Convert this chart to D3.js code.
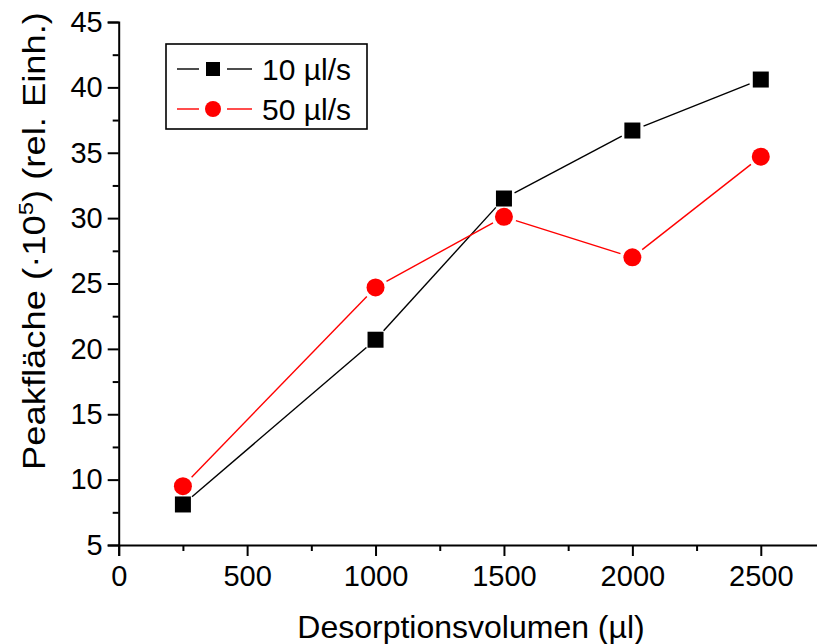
<!DOCTYPE html>
<html>
<head>
<meta charset="utf-8">
<script src="https://cdn.jsdelivr.net/npm/d3@7"></script>
<style>
  html, body { margin: 0; padding: 0; background: #fff; }
  svg { display: block; }
  text { font-family: "Liberation Sans", Arial, sans-serif; fill: #000; }
</style>
</head>
<body>
<svg id="chart" width="817" height="644"></svg>
<script>
// Desorption volume (µl) and peak areas (×10^5, rel. units)
const volumes = [250, 1000, 1500, 2000, 2500];
const flow10 = [8.1, 20.7, 31.5, 36.7, 40.6];
const flow50 = [9.5, 24.7, 30.1, 27.0, 34.7];
const seriesNames = ["10 µl/s", "50 µl/s"];
const xTicks = [0, 500, 1000, 1500, 2000, 2500];
const yTicks = [5, 10, 15, 20, 25, 30, 35, 40, 45];

const svg = d3.select("#chart");

const x = d3.scaleLinear().domain([0, 2750]).range([118.7, 825]);
const y = d3.scaleLinear().domain([5, 45]).range([545, 22]);

// Axes (ticks pointing outward, minor ticks between majors)
const xMinor = d3.range(250, 2750, 500);
const yMinor = d3.range(7.5, 45, 5);

const xAxisG = svg.append("g").attr("transform", `translate(0,${y(5)})`);
xAxisG.call(d3.axisBottom(x).tickValues(xMinor).tickSize(6).tickFormat(""))
  .call(g => g.select(".domain").remove());
xAxisG.append("g").call(d3.axisBottom(x).tickValues(xTicks).tickSize(11).tickPadding(9).tickFormat(d3.format("d")));
xAxisG.selectAll("line, path").attr("stroke", "#000").attr("stroke-width", 2);
xAxisG.selectAll("text").attr("font-size", 29).attr("fill", "#000");

const yAxisG = svg.append("g").attr("transform", `translate(${x(0)},0)`);
yAxisG.call(d3.axisLeft(y).tickValues(yMinor).tickSize(6).tickFormat(""))
  .call(g => g.select(".domain").remove());
yAxisG.append("g").call(d3.axisLeft(y).tickValues(yTicks).tickSize(11).tickPadding(5).tickFormat(d3.format("d")));
yAxisG.selectAll("line, path").attr("stroke", "#000").attr("stroke-width", 2);
yAxisG.selectAll("text").attr("font-size", 29).attr("fill", "#000");

// Axis titles
svg.append("text")
  .attr("x", 471).attr("y", 638)
  .attr("text-anchor", "middle")
  .attr("font-size", 32)
  .text("Desorptionsvolumen (µl)");

const yTitle = svg.append("text")
  .attr("text-anchor", "middle")
  .attr("font-size", 32);
yTitle.append("tspan").text("Peakfläche (·10");
yTitle.append("tspan").attr("font-size", 21).attr("dy", -12).text("5");
yTitle.append("tspan").attr("dy", 12).text(") (rel. Einh.)");
// stretch the rotated title along its length to span the axis height
const titleLen = yTitle.node().getBBox().width;
const stretch = 458 / titleLen;
yTitle.attr("transform", `translate(45,241) rotate(-90) scale(${stretch},1)`);

// Line segments that stop short of the markers
function drawSeries(values, color, gap) {
  const pts = volumes.map((v, i) => [x(v), y(values[i])]);
  const segs = [];
  for (let i = 0; i < pts.length - 1; i++) {
    const [x1, y1] = pts[i], [x2, y2] = pts[i + 1];
    const len = Math.hypot(x2 - x1, y2 - y1);
    const ux = (x2 - x1) / len, uy = (y2 - y1) / len;
    segs.push([x1 + ux * gap, y1 + uy * gap, x2 - ux * gap, y2 - uy * gap]);
  }
  svg.append("g").selectAll("line").data(segs).join("line")
    .attr("x1", d => d[0]).attr("y1", d => d[1])
    .attr("x2", d => d[2]).attr("y2", d => d[3])
    .attr("stroke", color).attr("stroke-width", 1.4);
  return pts;
}

const ptsBlack = drawSeries(flow10, "#000", 12);
const ptsRed = drawSeries(flow50, "#ff0000", 12.5);

const sq = 16, r = 9;
svg.append("g").selectAll("rect").data(ptsBlack).join("rect")
  .attr("x", d => d[0] - sq / 2).attr("y", d => d[1] - sq / 2)
  .attr("width", sq).attr("height", sq).attr("fill", "#000");
svg.append("g").selectAll("circle").data(ptsRed).join("circle")
  .attr("cx", d => d[0]).attr("cy", d => d[1]).attr("r", r).attr("fill", "#ff0000");

// Legend
const lg = svg.append("g");
lg.append("rect").attr("x", 166).attr("y", 44).attr("width", 201).attr("height", 85)
  .attr("fill", "#fff").attr("stroke", "#000").attr("stroke-width", 1.6);
const rows = [
  { name: seriesNames[0], color: "#000", cy: 69, shape: "square" },
  { name: seriesNames[1], color: "#ff0000", cy: 109, shape: "circle" }
];
rows.forEach(row => {
  lg.append("line").attr("x1", 177).attr("x2", 199).attr("y1", row.cy).attr("y2", row.cy)
    .attr("stroke", row.color).attr("stroke-width", 1.4);
  lg.append("line").attr("x1", 227).attr("x2", 252).attr("y1", row.cy).attr("y2", row.cy)
    .attr("stroke", row.color).attr("stroke-width", 1.4);
  if (row.shape === "square") {
    lg.append("rect").attr("x", 213 - 7).attr("y", row.cy - 7).attr("width", 14).attr("height", 14).attr("fill", row.color);
  } else {
    lg.append("circle").attr("cx", 213).attr("cy", row.cy).attr("r", 8).attr("fill", row.color);
  }
  lg.append("text").attr("x", 262).attr("y", row.cy + 11).attr("font-size", 30).text(row.name);
});
</script>
</body>
</html>
